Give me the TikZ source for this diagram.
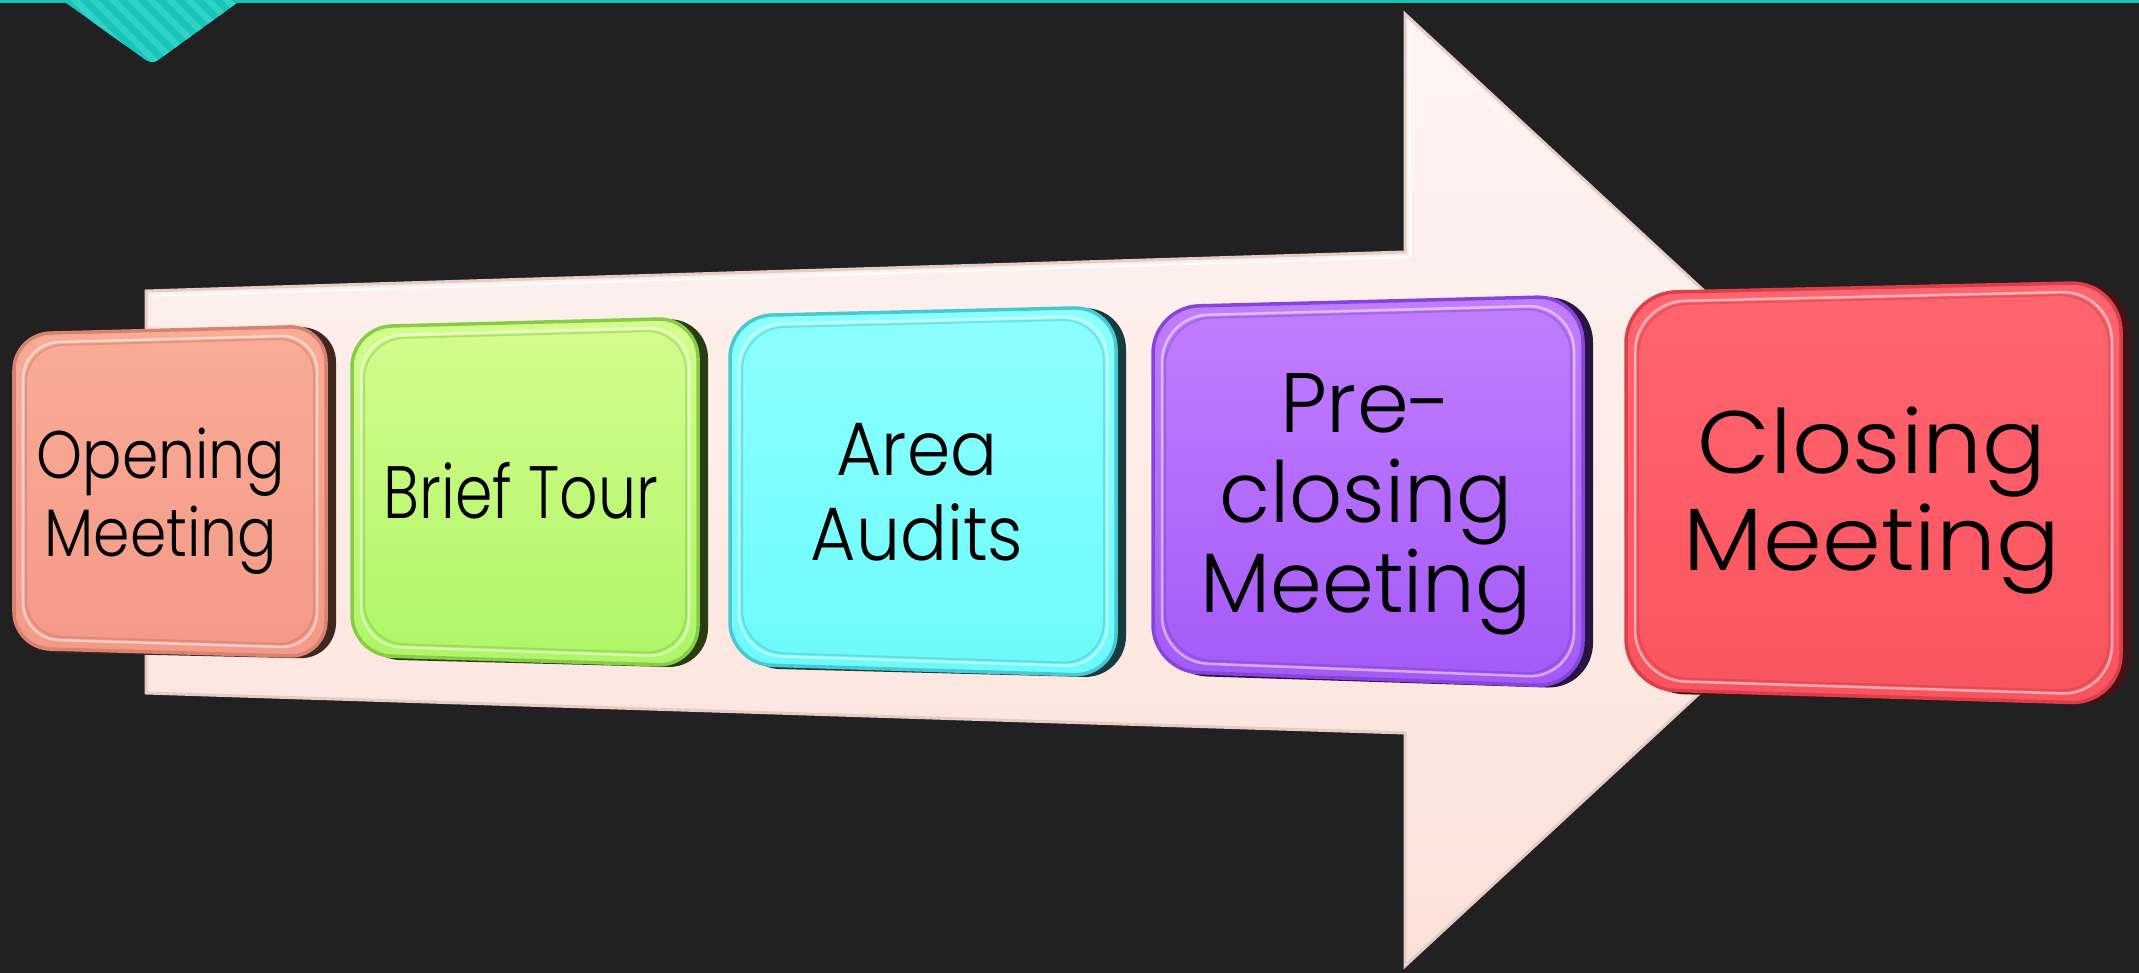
\documentclass[tikz,border=0pt]{standalone}
\usepackage{fontspec}
\setmainfont{Poppins Light}
% label faces, each condensed or widened to follow the card's foreshortening
\newfontfamily\openingface{Poppins Light}[FakeStretch=0.87]
\newfontfamily\briefface{Poppins Light}[FakeStretch=0.81]
\newfontfamily\areaface{Poppins Light}[FakeStretch=0.92]
\newfontfamily\preface{Poppins Light}[FakeStretch=0.985]
\newfontfamily\closingface{Poppins Light}[FakeStretch=1.067]
\usetikzlibrary{calc}

\definecolor{bgdark}{HTML}{212121}
\definecolor{tealline}{HTML}{14C2B4}
\definecolor{tealbase}{HTML}{19C4B8}
\definecolor{tealstripe}{HTML}{30D1C7}
\definecolor{arrowtop}{HTML}{FEF5F2}
\definecolor{arrowbot}{HTML}{FCE1DA}
\definecolor{arrowedge}{HTML}{E6CCC5}

\definecolor{oTop}{HTML}{F9AC96}\definecolor{oBot}{HTML}{F39988}\definecolor{oRim}{HTML}{D8826F}
\definecolor{bTop}{HTML}{D4FC8E}\definecolor{bBot}{HTML}{AEF566}\definecolor{bRim}{HTML}{86CC44}
\definecolor{aTop}{HTML}{8DFFFF}\definecolor{aBot}{HTML}{6CFAFA}\definecolor{aRim}{HTML}{48C8D2}
\definecolor{pTop}{HTML}{C27EFF}\definecolor{pBot}{HTML}{A459F6}\definecolor{pRim}{HTML}{8545DC}
\definecolor{cTop}{HTML}{FF6570}\definecolor{cBot}{HTML}{F9545F}\definecolor{cRim}{HTML}{DC3E4A}

% a bevelled, slightly foreshortened card; #1 = coordinate prefix,
% #2/#3 = face shading, #4 = rim colour, #5 = corner radius
\newcommand\cardface[5]{%
  \fill[#4!30!black, rounded corners=#5]
    ([shift={(8,2)}]#1tl) -- ([shift={(10,0)}]#1tr) -- ([shift={(10,2)}]#1br)
    -- ([shift={(8,4)}]#1bl) -- cycle;
  \shade[top color=#2, bottom color=#3, rounded corners=#5]
    (#1tl) -- (#1tr) -- (#1br) -- (#1bl) -- cycle;
  \draw[#4, line width=0.035cm, rounded corners=#5]
    (#1tl) -- (#1tr) -- (#1br) -- (#1bl) -- cycle;
  \draw[white, opacity=0.5, line width=0.025cm, rounded corners=#5]
    ([shift={(9,9)}]#1tl) -- ([shift={(-9,9)}]#1tr) -- ([shift={(-9,-9)}]#1br)
    -- ([shift={(9,-9)}]#1bl) -- cycle;
  \draw[#4!80!black, opacity=0.3, line width=0.02cm, rounded corners=#5]
    ([shift={(12,12)}]#1tl) -- ([shift={(-12,12)}]#1tr) -- ([shift={(-12,-12)}]#1br)
    -- ([shift={(12,-12)}]#1bl) -- cycle;
}

\tikzset{
  cardtext/.style={align=center, text=black, inner sep=0pt},
}

\begin{document}
\begin{tikzpicture}[x=0.01cm, y=-0.01cm]
  % page
  \fill[bgdark] (0,0) rectangle (2139,973);
  \useasboundingbox (0,0) rectangle (2139,973);

  % top rule and striped tab
  \fill[tealline] (0,0) rectangle (2139,3);
  \begin{scope}
    \clip (62,0) -- (143,58) to[out=-36,in=180] (152,62) to[out=0,in=216] (161,58) -- (241,0) -- cycle;
    \fill[tealbase] (50,-5) rectangle (260,80);
    \foreach \s in {-120,-101,...,260}
      \draw[tealstripe, line width=0.065cm] (\s,-5) -- (\s+90,85);
  \end{scope}

  % big process arrow
  \coordinate (A1) at (146,291);
  \coordinate (A2) at (1405,252);
  \coordinate (A3) at (1405,14);
  \coordinate (A4) at (1919,490);
  \coordinate (A5) at (1405,966);
  \coordinate (A6) at (1405,733);
  \coordinate (A7) at (146,693);
  \shade[top color=arrowtop, bottom color=arrowbot]
    (A1) -- (A2) -- (A3) -- (A4) -- (A5) -- (A6) -- (A7) -- cycle;
  \draw[arrowedge, line width=0.03cm]
    (A1) -- (A2) -- (A3) -- (A4) -- (A5) -- (A6) -- (A7) -- cycle;
  \draw[white, line width=0.02cm]
    ($(A1)+(5,5)$) -- ($(A2)+(5,5)$) -- ($(A3)+(5,14)$);

  % card corners
  \coordinate (otl) at (14,334);   \coordinate (otr) at (326,326);
  \coordinate (obr) at (326,657);  \coordinate (obl) at (14,648);
  \coordinate (btl) at (352,327);  \coordinate (btr) at (698,318);
  \coordinate (bbr) at (698,666);  \coordinate (bbl) at (352,655);
  \coordinate (atl) at (730,316);  \coordinate (atr) at (1116,307);
  \coordinate (abr) at (1116,676); \coordinate (abl) at (730,664);
  \coordinate (ptl) at (1153,307); \coordinate (ptr) at (1583,296);
  \coordinate (pbr) at (1583,687); \coordinate (pbl) at (1153,671);
  \coordinate (ctl) at (1626,293); \coordinate (ctr) at (2121,282);
  \coordinate (cbr) at (2121,704); \coordinate (cbl) at (1626,689);

  \cardface{o}{oTop}{oBot}{oRim}{0.36cm}
  \cardface{b}{bTop}{bBot}{bRim}{0.40cm}
  \cardface{a}{aTop}{aBot}{aRim}{0.42cm}
  \cardface{p}{pTop}{pBot}{pRim}{0.46cm}
  \cardface{c}{cTop}{cBot}{cRim}{0.50cm}

  % card labels
  \node[cardtext, font=\openingface\fontsize{19.1}{22.3}\selectfont] (opening) at (161,501) {Opening\\Meeting};
  \node[cardtext, font=\briefface\fontsize{21.1}{24}\selectfont] (brief) at (521,491) {Brief Tour};
  \node[cardtext, font=\areaface\fontsize{21.5}{24.2}\selectfont] (area) at (917,492) {Area\\Audits};
  \node[cardtext, font=\preface\fontsize{24}{25.6}\selectfont] (preclosing) at (1366,504) {Pre-\\closing\\Meeting};
  \node[cardtext, font=\closingface\fontsize{25.2}{27.6}\selectfont] (closing) at (1872,501) {Closing\\Meeting};
\end{tikzpicture}
\end{document}
